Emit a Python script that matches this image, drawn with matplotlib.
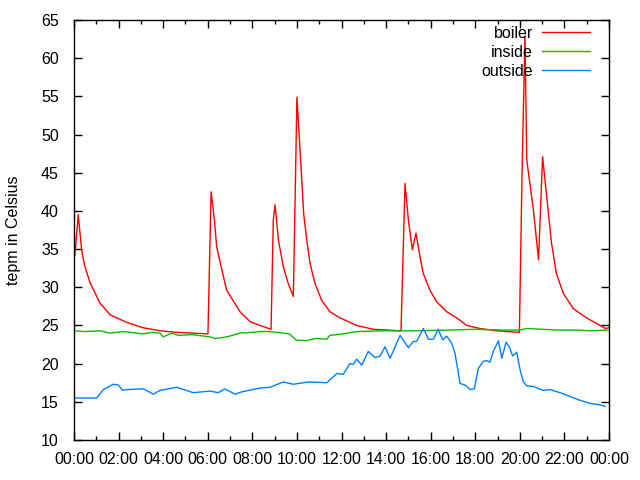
import matplotlib
matplotlib.use('Agg')
import matplotlib.pyplot as plt
from matplotlib.ticker import MultipleLocator, FuncFormatter

# hours since midnight, temperature in Celsius
boiler_h = [0.04, 0.19, 0.35, 0.49, 0.72, 1.17, 1.62, 2.36, 3.10, 3.86, 4.61,
            6.01, 6.15, 6.30, 6.40, 6.63, 6.85, 7.45, 7.90, 8.34, 8.84, 8.94,
            9.02, 9.17, 9.39, 9.61, 9.84, 10.0, 10.22, 10.30, 10.44, 10.59,
            10.81, 11.11, 11.48, 11.93, 12.68, 13.42, 14.63, 14.67, 14.85,
            15.0, 15.18, 15.34, 15.52, 15.67, 15.97, 16.27, 16.72, 17.17,
            17.62, 18.21, 18.96, 19.98, 20.10, 20.23, 20.31, 20.61, 20.84,
            21.02, 21.19, 21.42, 21.64, 21.95, 22.40, 22.99, 23.60, 23.84, 24.0]
boiler_t = [34.2, 39.5, 34.7, 32.7, 30.6, 27.9, 26.4, 25.4, 24.7, 24.3, 24.1,
            23.9, 42.5, 38.8, 35.3, 32.3, 29.6, 26.8, 25.5, 25.0, 24.5, 38.8,
            40.8, 36.2, 32.7, 30.5, 28.8, 54.9, 44.0, 39.7, 36.2, 33.1,
            30.5, 28.3, 26.8, 26.0, 25.0, 24.5, 24.3, 24.3, 43.6,
            38.8, 34.9, 37.1, 34.0, 31.8, 29.6, 28.1, 26.8, 26.0,
            25.0, 24.6, 24.3, 24.1, 45.0, 62.9, 46.7, 40.1, 33.6,
            47.1, 42.3, 35.8, 31.8, 29.2, 27.2, 26.0, 25.0, 24.6, 24.7]

inside_h = [0.0, 0.5, 1.17, 1.61, 2.2, 3.11, 3.5, 3.86, 4.0, 4.38, 4.67, 5.3,
            6.10, 6.33, 6.85, 7.45, 8.0, 8.34, 8.79, 9.66, 9.96, 10.41, 10.86,
            11.34, 11.48, 12.08, 12.68, 13.86, 15.37, 16.87, 18.0, 19.2, 20.0,
            20.3, 21.0, 21.6, 22.5, 23.2, 24.0]
inside_t = [24.3, 24.2, 24.3, 24.0, 24.2, 23.9, 24.1, 24.0, 23.5, 24.0, 23.7,
            23.8, 23.5, 23.3, 23.5, 24.0, 24.1, 24.2, 24.2, 23.9, 23.1, 23.0,
            23.3, 23.2, 23.7, 23.9, 24.2, 24.3, 24.3, 24.4, 24.5, 24.4, 24.4,
            24.6, 24.5, 24.4, 24.4, 24.3, 24.4]

outside_h = [0.04, 0.57, 1.02, 1.31, 1.76, 1.99, 2.18, 2.36, 3.11, 3.56, 3.86,
             4.61, 5.35, 6.10, 6.47, 6.77, 7.22, 7.52, 8.34, 8.79, 9.39, 9.84,
             10.51, 11.34, 11.79, 12.08, 12.38, 12.53, 12.68, 12.91, 13.20,
             13.50, 13.73, 13.95, 14.18, 14.63, 15.00, 15.22, 15.37, 15.67,
             15.90, 16.12, 16.34, 16.54, 16.72, 16.94, 17.09, 17.32, 17.54,
             17.77, 17.96, 18.14, 18.36, 18.52, 18.66, 18.81, 19.04, 19.19,
             19.38, 19.53, 19.68, 19.86, 20.01, 20.16, 20.31, 20.61, 21.05,
             21.35, 21.80, 22.25, 22.70, 23.15, 23.60, 23.82]
outside_t = [15.5, 15.5, 15.5, 16.6, 17.3, 17.2, 16.5, 16.6, 16.7, 16.0, 16.5,
             16.9, 16.2, 16.4, 16.2, 16.7, 16.0, 16.3, 16.8, 16.9, 17.6, 17.3,
             17.6, 17.5, 18.7, 18.6, 20.0, 19.9, 20.6, 19.8, 21.6,
             20.8, 21.0, 22.2, 20.7, 23.7, 22.1, 22.9, 22.9, 24.6,
             23.2, 23.2, 24.5, 23.1, 23.6, 22.7, 21.4, 17.4, 17.2,
             16.6, 16.7, 19.4, 20.3, 20.4, 20.2, 21.6, 23.0, 20.7,
             22.8, 22.2, 21.0, 21.5, 19.2, 17.6, 17.1, 17.0, 16.5,
             16.6, 16.2, 15.7, 15.2, 14.8, 14.6, 14.4]

plt.rcParams['font.family'] = ['Liberation Sans', 'DejaVu Sans']
plt.rcParams['font.size'] = 11.5

fig = plt.figure(figsize=(6.4, 4.8), dpi=100)
ax = fig.add_axes([74 / 640, 40 / 480, 535 / 640, 420 / 480])

ax.plot(boiler_h, boiler_t, color='#ff0000', lw=1, label='boiler')
ax.plot(inside_h, inside_t, color='#00c000', lw=1, label='inside')
ax.plot(outside_h, outside_t, color='#0080ff', lw=1, label='outside')

ax.set_xlim(0, 24)
ax.set_ylim(10, 65)
ax.xaxis.set_major_locator(MultipleLocator(2))
ax.xaxis.set_minor_locator(MultipleLocator(1))
ax.xaxis.set_major_formatter(FuncFormatter(lambda v, p: '%02d:00' % (int(round(v)) % 24)))
ax.yaxis.set_major_locator(MultipleLocator(5))
ax.tick_params(which='both', direction='in', top=True, right=True, width=1)
ax.tick_params(axis='x', which='major', length=6, pad=9)
ax.tick_params(axis='y', which='major', length=6, pad=11)
ax.tick_params(which='minor', length=3)
for s in ax.spines.values():
    s.set_linewidth(1)

ax.set_ylabel('tepm in Celsius', labelpad=14)

ax.legend(loc='upper right', frameon=False, markerfirst=False,
          handlelength=3.0, handletextpad=0.6, labelspacing=0.25,
          borderaxespad=0.1, bbox_to_anchor=(0.98, 1.005))

fig.savefig('out.png', dpi=100)
